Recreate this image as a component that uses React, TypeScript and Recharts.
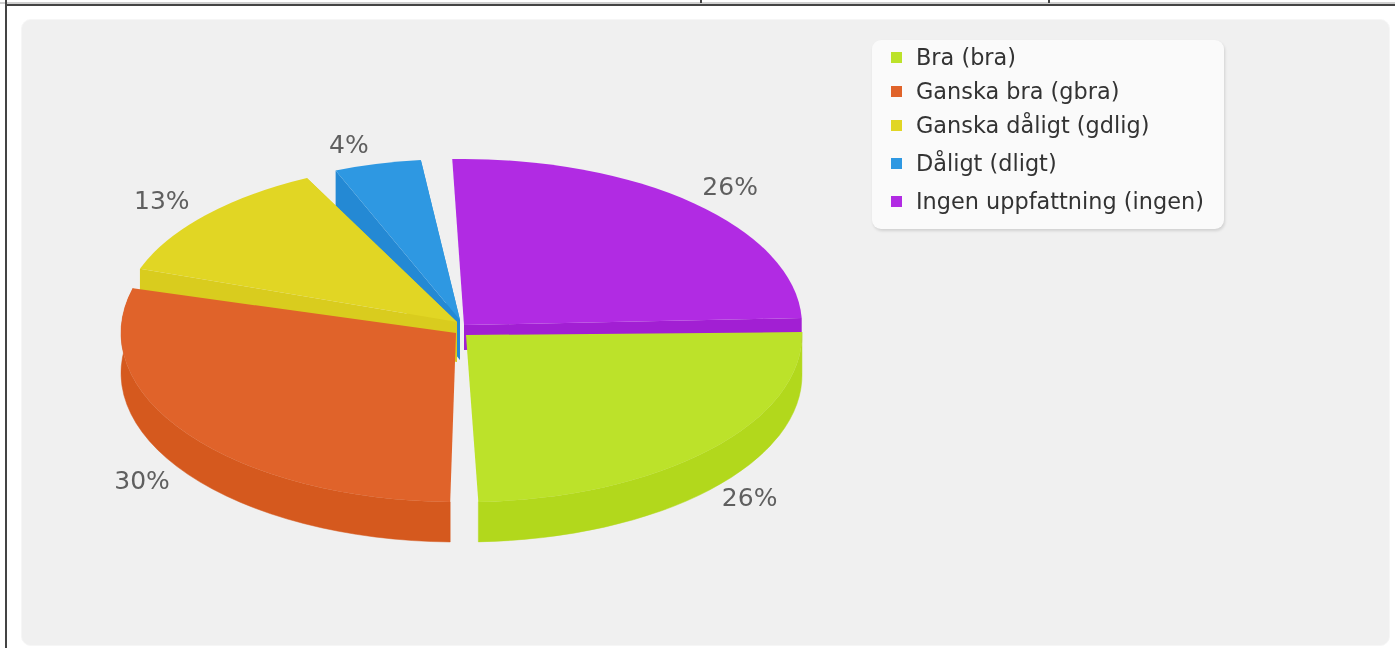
import React from "react";
import { PieChart, Pie, Legend } from "recharts";

const categories = ["Bra (bra)", "Ganska bra (gbra)", "Ganska dåligt (gdlig)", "Dåligt (dligt)", "Ingen uppfattning (ingen)"];
const shares = [26, 30, 13, 4, 26];

const topColors = ["#BCE22A", "#E0632A", "#E1D624", "#2E98E2", "#B12BE3"];
const sideColors = ["#B2D81C", "#D5591E", "#D9CC1E", "#2489D4", "#A21FD3"];
const apexX = [466, 456, 457, 460, 464];
const apexY = [335, 333, 322, 320, 325];
const radiusX = [336, 335, 336, 336, 338];
const radiusY = [167, 169, 161, 161, 166];
const trimLow = [0.4, 0, 0.5, -1.6, -2.6];
const trimHigh = [0, 1.3, 0, -0.3, -2.3];
const depths = [40, 40, 40, 40, 25];
const labelRadiusX = [392, 389, 395, 425, 411];
const labelRadiusY = [236, 249, 183, 182, 182];
const legendRowY = [46, 80, 114, 152, 190];
const RAD = Math.PI / 180;

// Back-to-front paint order, which is the reverse of the legend order.
const rows = categories.map((name, i) => ({ name, value: shares[i] })).reverse();
const indexOf = (p: any) => categories.indexOf(p.name ?? p.payload?.name);

function Slice3D(p: any) {
  const i = indexOf(p);
  const cx = apexX[i], cy = apexY[i], rx = radiusX[i], ry = radiusY[i], d = depths[i];
  const a0 = Math.min(p.startAngle, p.endAngle) + trimLow[i];
  const a1 = Math.max(p.startAngle, p.endAngle) + trimHigh[i];
  const px = (a: number) => cx + rx * Math.cos(a * RAD);
  const py = (a: number) => cy - ry * Math.sin(a * RAD);
  const large = a1 - a0 > 180 ? 1 : 0;
  const x0 = px(a0), y0 = py(a0), x1 = px(a1), y1 = py(a1);
  const isFront = Math.sin(((a0 + a1) / 2) * RAD) < 0;
  const top = `M${cx},${cy} L${x0},${y0} A${rx},${ry} 0 ${large} 0 ${x1},${y1} Z`;
  const band = `M${x0},${y0} A${rx},${ry} 0 ${large} 0 ${x1},${y1} L${x1},${y1 + d} A${rx},${ry} 0 ${large} 1 ${x0},${y0 + d} Z`;
  const wallA = `M${cx},${cy} L${x0},${y0} L${x0},${y0 + d} L${cx},${cy + d} Z`;
  const wallB = `M${cx},${cy} L${x1},${y1} L${x1},${y1 + d} L${cx},${cy + d} Z`;
  const side = sideColors[i];
  return (
    <g>
      {isFront && <path d={band} fill={side} stroke={side} strokeWidth={0.5} />}
      {!isFront && Math.abs(x0 - cx) > 30 && <path d={wallA} fill={side} />}
      {!isFront && Math.abs(x1 - cx) > 30 && <path d={wallB} fill={side} />}
      <path d={top} fill={topColors[i]} />
    </g>
  );
}

function sliceLabel(p: any) {
  const i = indexOf(p);
  const a = p.midAngle * RAD;
  const x = apexX[i] + labelRadiusX[i] * Math.cos(a);
  const y = apexY[i] - labelRadiusY[i] * Math.sin(a);
  return (
    <text key={i} x={x} y={y} textAnchor="middle" dominantBaseline="central" fill="#5f5f5f" fontFamily="DejaVu Sans" fontSize={25}>
      {`${Math.round(p.percent * 100)}%`}
    </text>
  );
}

function LegendBox() {
  return (
    <div style={{ position: "relative", width: 352, height: 189, background: "#fafafa", borderRadius: 9, boxShadow: "1px 2px 3px rgba(0,0,0,0.13)" }}>
      {categories.map((name, i) => (
        <div key={name} style={{ position: "absolute", left: 0, top: legendRowY[i] - 40, height: 22, display: "flex", alignItems: "center", whiteSpace: "nowrap" }}>
          <span style={{ position: "absolute", left: 19, top: 6, width: 11, height: 11, background: topColors[i] }} />
          <span style={{ position: "absolute", left: 44, fontFamily: "DejaVu Sans", fontSize: 22.4, color: "#333" }}>{name}</span>
        </div>
      ))}
    </div>
  );
}

export default function App() {
  return (
    <div style={{ position: "absolute", left: 0, top: 0, width: 1395, height: 648, overflow: "hidden", background: "#fff", filter: "blur(0.6px)" }}>
      <div style={{ position: "absolute", left: 0, top: 2, width: 1395, height: 2, background: "#cfcfcf" }} />
      <div style={{ position: "absolute", left: 5, top: 4, width: 1390, height: 2, background: "#444" }} />
      <div style={{ position: "absolute", left: 5, top: 0, width: 2, height: 648, background: "#444" }} />
      <div style={{ position: "absolute", left: 700, top: 0, width: 2, height: 3, background: "#444" }} />
      <div style={{ position: "absolute", left: 1048, top: 0, width: 2, height: 3, background: "#444" }} />
      <div style={{ position: "absolute", left: 21, top: 19, width: 1367, height: 625, background: "#f0f0f0", borderRadius: 10, border: "1px solid #f6f6f6" }} />
      <div style={{ position: "absolute", left: 0, top: 0 }}>
        <PieChart width={1395} height={648} margin={{ top: 0, right: 0, bottom: 0, left: 0 }}>
          <Pie
            data={rows}
            dataKey="value"
            nameKey="name"
            cx={460}
            cy={330}
            outerRadius={300}
            startAngle={-355}
            endAngle={5}
            paddingAngle={4}
            shape={Slice3D}
            label={sliceLabel}
            labelLine={false}
            isAnimationActive={false}
          />
          <Legend
            content={() => <LegendBox />}
            layout="vertical"
            wrapperStyle={{ position: "absolute", left: 872, top: 40, width: 352, height: 189 }}
          />
        </PieChart>
      </div>
    </div>
  );
}
